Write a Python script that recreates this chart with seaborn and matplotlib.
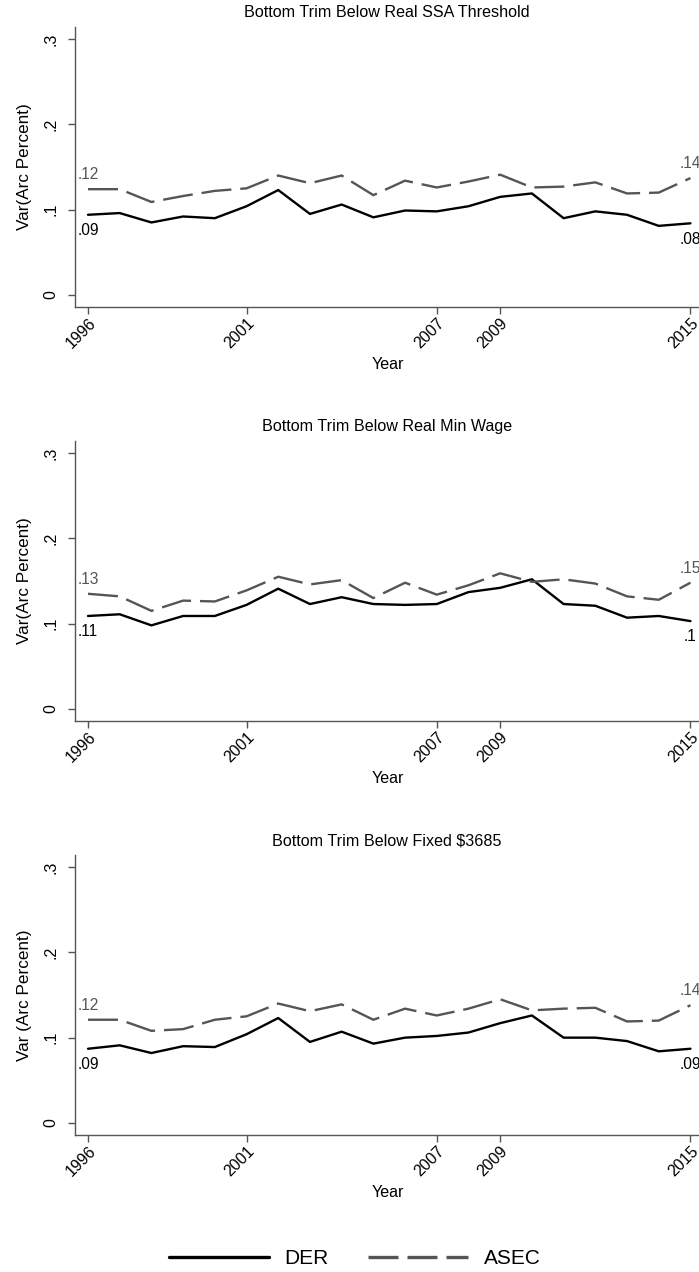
import numpy as np
import pandas as pd
import matplotlib
matplotlib.use("Agg")
import matplotlib.pyplot as plt
import seaborn as sns
from matplotlib.lines import Line2D

sns.set_style("white")
plt.rcParams['font.family'] = ['Liberation Sans', 'DejaVu Sans']
plt.rcParams['text.color'] = 'black'
plt.rcParams['axes.labelcolor'] = 'black'
plt.rcParams['xtick.color'] = 'black'
plt.rcParams['ytick.color'] = 'black'

years = list(range(1996, 2016))
tick_years = [1996, 2001, 2007, 2009, 2015]
ytick_vals = [0, 0.1, 0.2, 0.3]
ytick_labels = ["0", ".1", ".2", ".3"]

titles = ["Bottom Trim Below Real SSA Threshold",
          "Bottom Trim Below Real Min Wage",
          "Bottom Trim Below Fixed $3685"]
ylabels = ["Var(Arc Percent)", "Var(Arc Percent)", "Var (Arc Percent)"]

der_ssa = [0.094, 0.096, 0.085, 0.092, 0.090, 0.104, 0.123, 0.095, 0.106, 0.091,
           0.099, 0.098, 0.104, 0.115, 0.119, 0.090, 0.098, 0.094, 0.081, 0.084]
asec_ssa = [0.124, 0.124, 0.109, 0.116, 0.122, 0.125, 0.140, 0.131, 0.140, 0.117,
            0.134, 0.126, 0.133, 0.141, 0.126, 0.127, 0.132, 0.119, 0.120, 0.137]

der_mw = [0.109, 0.111, 0.098, 0.109, 0.109, 0.122, 0.141, 0.123, 0.131, 0.123,
          0.122, 0.123, 0.137, 0.142, 0.152, 0.123, 0.121, 0.107, 0.109, 0.103]
asec_mw = [0.135, 0.132, 0.115, 0.127, 0.126, 0.139, 0.155, 0.146, 0.151, 0.130,
           0.148, 0.134, 0.145, 0.159, 0.149, 0.152, 0.147, 0.132, 0.128, 0.148]

der_fx = [0.087, 0.091, 0.082, 0.090, 0.089, 0.104, 0.123, 0.095, 0.107, 0.093,
          0.100, 0.102, 0.106, 0.117, 0.126, 0.100, 0.100, 0.096, 0.084, 0.087]
asec_fx = [0.121, 0.121, 0.108, 0.110, 0.121, 0.125, 0.140, 0.131, 0.139, 0.121,
           0.134, 0.126, 0.134, 0.145, 0.132, 0.134, 0.135, 0.119, 0.120, 0.138]

der_start_lab = [".09", ".11", ".09"]
der_end_lab = [".08", ".1", ".09"]
asec_start_lab = [".12", ".13", ".12"]
asec_end_lab = [".14", ".15", ".14"]

series = [(der_ssa, asec_ssa), (der_mw, asec_mw), (der_fx, asec_fx)]

W, H = 699, 1272
fig = plt.figure(figsize=(W / 100, H / 100), dpi=100)

panel_px = [(27, 307), (441, 721), (855, 1135)]
left_px = 75
ASEC_COLOR = "#555555"
SPINE_COLOR = "#555555"
FS_TITLE = 11.6
FS_TICK = 11.5
FS_LAB = 12.3
FS_PT = 11.2
LW = 1.7
dash = (12.7, 3.8)

for i, ((top, bot), (der, asec)) in enumerate(zip(panel_px, series)):
    ax = fig.add_axes([left_px / W, 1 - bot / H, (W - left_px) / W, (bot - top) / H])
    df = pd.DataFrame({"Year": years, "DER": der, "ASEC": asec})
    sns.lineplot(data=df, x="Year", y="DER", ax=ax, color="black", lw=LW)
    sns.lineplot(data=df, x="Year", y="ASEC", ax=ax, color=ASEC_COLOR, lw=LW)
    ax.lines[-1].set_dashes(dash)
    ax.set_xlim(1995.59, 2015.27)
    ax.set_ylim(-0.0141, 0.3141)
    ax.set_xticks(tick_years)
    ax.set_xticklabels([str(y) for y in tick_years], rotation=45, ha="right",
                       va="top", rotation_mode="anchor", fontsize=FS_TICK)
    ax.set_yticks(ytick_vals)
    ax.set_yticklabels(ytick_labels, rotation=90, va="center", fontsize=FS_TICK)
    ax.tick_params(axis="both", which="major", length=5, width=1.0,
                   color=SPINE_COLOR, direction="out", bottom=True, left=True)
    ax.tick_params(axis="y", pad=7)
    ax.tick_params(axis="x", pad=1)
    for s in ["top", "right"]:
        ax.spines[s].set_visible(False)
    for s in ["left", "bottom"]:
        ax.spines[s].set_color(SPINE_COLOR)
        ax.spines[s].set_linewidth(1.0)
    ax.set_title(titles[i], fontsize=FS_TITLE, pad=7, color="black")
    ax.set_xlabel("Year", fontsize=FS_TITLE)
    ax.xaxis.set_label_coords((388 - left_px) / (W - left_px), -(50) / (bot - top))
    ax.set_ylabel(ylabels[i], fontsize=FS_LAB)
    ax.yaxis.set_label_coords(-(43) / (W - left_px), 0.5)
    ax.grid(False)

    # endpoint labels
    ax.annotate(asec_start_lab[i], (years[0], asec[0]), xytext=(0, 5),
                textcoords="offset points", ha="center", va="bottom",
                fontsize=FS_PT, color=ASEC_COLOR, annotation_clip=False)
    ax.annotate(asec_end_lab[i], (years[-1], asec[-1]), xytext=(0, 5),
                textcoords="offset points", ha="center", va="bottom",
                fontsize=FS_PT, color=ASEC_COLOR, annotation_clip=False)
    ax.annotate(der_start_lab[i], (years[0], der[0]), xytext=(0, -6),
                textcoords="offset points", ha="center", va="top",
                fontsize=FS_PT, color="black", annotation_clip=False)
    ax.annotate(der_end_lab[i], (years[-1], der[-1]), xytext=(0, -6),
                textcoords="offset points", ha="center", va="top",
                fontsize=FS_PT, color="black", annotation_clip=False)

handles = [Line2D([], [], color="black", lw=2.4),
           Line2D([], [], color=ASEC_COLOR, lw=2.4, dashes=(9.0, 2.7))]
fig.legend(handles, ["DER", "ASEC"], loc="center", bbox_to_anchor=(355 / W, 1 - 1259 / H),
           ncol=2, frameon=False, fontsize=15, handlelength=4.8, handletextpad=0.75,
           columnspacing=1.9)

fig.savefig("out.png", dpi=100)
